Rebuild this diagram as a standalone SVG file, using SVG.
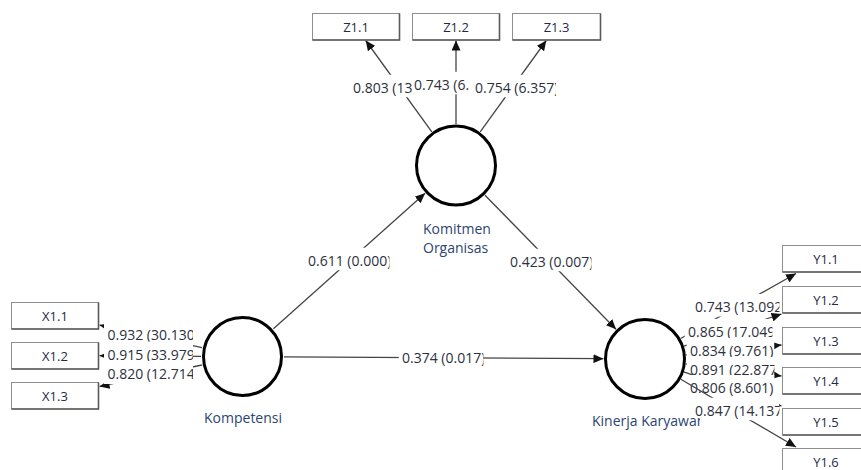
<svg xmlns="http://www.w3.org/2000/svg" width="861" height="470" viewBox="0 0 861 470">
<style>
.bg{fill:#ffffff}
.ln{stroke:#444444;stroke-width:1.3;fill:none}
.lb rect{fill:#ffffff}
.lb text{font-family:"Open Sans","Noto Sans",sans-serif;font-size:14px;fill:#2c3040}
.box{fill:#ffffff;stroke:#8e8e8e;stroke-width:1}
.sh{fill:none;stroke:#5a5a5a;stroke-width:1.6}
.bt{font-family:"Open Sans","Noto Sans",sans-serif;font-size:13px;fill:#1f2a48;text-anchor:middle}
.lv{fill:#ffffff;stroke:#000000;stroke-width:3}
.lt{font-family:"Open Sans","Noto Sans",sans-serif;font-size:14px;fill:#2c4472}
</style>
<defs>
<marker id="ah" markerUnits="userSpaceOnUse" viewBox="0 0 10 9" refX="10" refY="4.5" markerWidth="10" markerHeight="9" orient="auto">
<path d="M0,0 L10,4.5 L0,9 z" fill="#111111"/>
</marker>
</defs>
<rect class="bg" x="0" y="0" width="861" height="470"/>
<g id="connectors">
<line class="ln" x1="273.4" y1="328.8" x2="425.1" y2="193.2" marker-end="url(#ah)"/>
<svg class="lb" x="304.5" y="247.5" width="85" height="23"><rect width="85" height="23"/><text x="3.5" y="18">0.611 (0.000)</text></svg>
<line class="ln" x1="485" y1="195.2" x2="616" y2="329.3" marker-end="url(#ah)"/>
<svg class="lb" x="506.5" y="248.5" width="85" height="23"><rect width="85" height="23"/><text x="3.5" y="18">0.423 (0.007)</text></svg>
<line class="ln" x1="284" y1="356.8" x2="603.5" y2="358.7" marker-end="url(#ah)"/>
<svg class="lb" x="398.5" y="344.5" width="85" height="23"><rect width="85" height="23"/><text x="3.5" y="18">0.374 (0.017)</text></svg>

<line class="ln" x1="431.8" y1="131.8" x2="365.7" y2="40.5" marker-end="url(#ah)"/>
<svg class="lb" x="350" y="74.5" width="62" height="23"><rect width="62" height="23"/><text x="3" y="18">0.803 (13</text></svg>
<line class="ln" x1="456" y1="124" x2="456" y2="40.5" marker-end="url(#ah)"/>
<svg class="lb" x="412" y="71.5" width="60" height="23"><rect width="60" height="23"/><text x="2" y="18">0.743 (6.</text></svg>
<line class="ln" x1="480.2" y1="131.8" x2="546.3" y2="40.5" marker-end="url(#ah)"/>
<svg class="lb" x="472" y="74.5" width="84" height="23"><rect width="84" height="23"/><text x="3" y="18">0.754 (6.357)</text></svg>

<line class="ln" x1="202" y1="347.6" x2="99.5" y2="325.1" marker-end="url(#ah)"/>
<svg class="lb" x="104" y="321.5" width="89" height="23"><rect width="89" height="23"/><text x="3.5" y="18">0.932 (30.130</text></svg>
<line class="ln" x1="201" y1="356.3" x2="99.5" y2="355.7" marker-end="url(#ah)"/>
<svg class="lb" x="104" y="341.5" width="89" height="23"><rect width="89" height="23"/><text x="3.5" y="18">0.915 (33.979</text></svg>
<line class="ln" x1="201.9" y1="365" x2="99.5" y2="386.4" marker-end="url(#ah)"/>
<svg class="lb" x="104" y="361" width="89" height="23"><rect width="89" height="23"/><text x="3.5" y="18">0.820 (12.714</text></svg>

<line class="ln" x1="680.7" y1="338.5" x2="796" y2="273.5" marker-end="url(#ah)"/>
<svg class="lb" x="691.5" y="293.7" width="88" height="23"><rect width="88" height="23"/><text x="3.5" y="18">0.743 (13.092</text></svg>
<line class="ln" x1="684" y1="346.2" x2="781.5" y2="314" marker-end="url(#ah)"/>
<svg class="lb" x="684.5" y="318.7" width="88" height="23"><rect width="88" height="23"/><text x="3.5" y="18">0.865 (17.049</text></svg>
<line class="ln" x1="685.8" y1="354.8" x2="781.5" y2="345" marker-end="url(#ah)"/>
<svg class="lb" x="686.5" y="338" width="88" height="23"><rect width="88" height="23"/><text x="3.5" y="18">0.834 (9.761)</text></svg>
<line class="ln" x1="685.7" y1="364" x2="781.5" y2="376" marker-end="url(#ah)"/>
<svg class="lb" x="686.5" y="357" width="88" height="23"><rect width="88" height="23"/><text x="3.5" y="18">0.891 (22.877)</text></svg>
<line class="ln" x1="683.8" y1="371.8" x2="781.5" y2="406" marker-end="url(#ah)"/>
<svg class="lb" x="686.5" y="375" width="88" height="23"><rect width="88" height="23"/><text x="3.5" y="18">0.806 (8.601)</text></svg>
<line class="ln" x1="680.8" y1="379.2" x2="796" y2="447" marker-end="url(#ah)"/>
<svg class="lb" x="691.5" y="397.5" width="88" height="23"><rect width="88" height="23"/><text x="3.5" y="18">0.847 (14.137</text></svg>
</g>

<g id="node-komitmen">
<circle class="lv" cx="456" cy="165.5" r="39.5"/>
<text class="lt" x="423" y="234">Komitmen</text>
<text class="lt" x="423" y="253">Organisas</text>
</g>
<g id="node-kompetensi">
<circle class="lv" cx="242.5" cy="356.5" r="39"/>
<text class="lt" x="204" y="423">Kompetensi</text>
</g>
<g id="node-kinerja">
<circle class="lv" cx="645" cy="359" r="39.5"/>
<svg x="588" y="406" width="112" height="26"><text class="lt" x="4" y="19.5">Kinerja Karyawan</text></svg>
</g>

<g id="node-z11"><rect class="box" x="312.5" y="13.5" width="87" height="26.5"/><path class="sh" d="M312.5,40 H399.5 V13.5"/><text class="bt" x="356" y="31.5">Z1.1</text></g>
<g id="node-z12"><rect class="box" x="412.5" y="13.5" width="87" height="26.5"/><path class="sh" d="M412.5,40 H499.5 V13.5"/><text class="bt" x="456" y="31.5">Z1.2</text></g>
<g id="node-z13"><rect class="box" x="512.5" y="13.5" width="88" height="26.5"/><path class="sh" d="M512.5,40 H600.5 V13.5"/><text class="bt" x="556.5" y="31.5">Z1.3</text></g>

<g id="node-x11"><rect class="box" x="11.5" y="302.5" width="87" height="26.5"/><path class="sh" d="M11.5,329 H98.5 V302.5"/><text class="bt" x="55" y="320.5">X1.1</text></g>
<g id="node-x12"><rect class="box" x="11.5" y="342.5" width="87" height="26.5"/><path class="sh" d="M11.5,369 H98.5 V342.5"/><text class="bt" x="55" y="360.5">X1.2</text></g>
<g id="node-x13"><rect class="box" x="11.5" y="382.5" width="87" height="26.5"/><path class="sh" d="M11.5,409 H98.5 V382.5"/><text class="bt" x="55" y="400.5">X1.3</text></g>

<g id="node-y11"><rect class="box" x="782.5" y="245.5" width="88" height="26.5"/><path class="sh" d="M782.5,272 H870.5"/><text class="bt" x="826" y="263.5">Y1.1</text></g>
<g id="node-y12"><rect class="box" x="782.5" y="286.5" width="88" height="26.5"/><path class="sh" d="M782.5,313 H870.5"/><text class="bt" x="826" y="304.5">Y1.2</text></g>
<g id="node-y13"><rect class="box" x="782.5" y="327.5" width="88" height="26.5"/><path class="sh" d="M782.5,354 H870.5"/><text class="bt" x="826" y="345.5">Y1.3</text></g>
<g id="node-y14"><rect class="box" x="782.5" y="367.5" width="88" height="26.5"/><path class="sh" d="M782.5,394 H870.5"/><text class="bt" x="826" y="385.5">Y1.4</text></g>
<g id="node-y15"><rect class="box" x="782.5" y="408.5" width="88" height="26.5"/><path class="sh" d="M782.5,435 H870.5"/><text class="bt" x="826" y="426.5">Y1.5</text></g>
<g id="node-y16"><rect class="box" x="782.5" y="448.5" width="88" height="26.5"/><path class="sh" d="M782.5,475 H870.5"/><text class="bt" x="826" y="466.5">Y1.6</text></g>
</svg>
